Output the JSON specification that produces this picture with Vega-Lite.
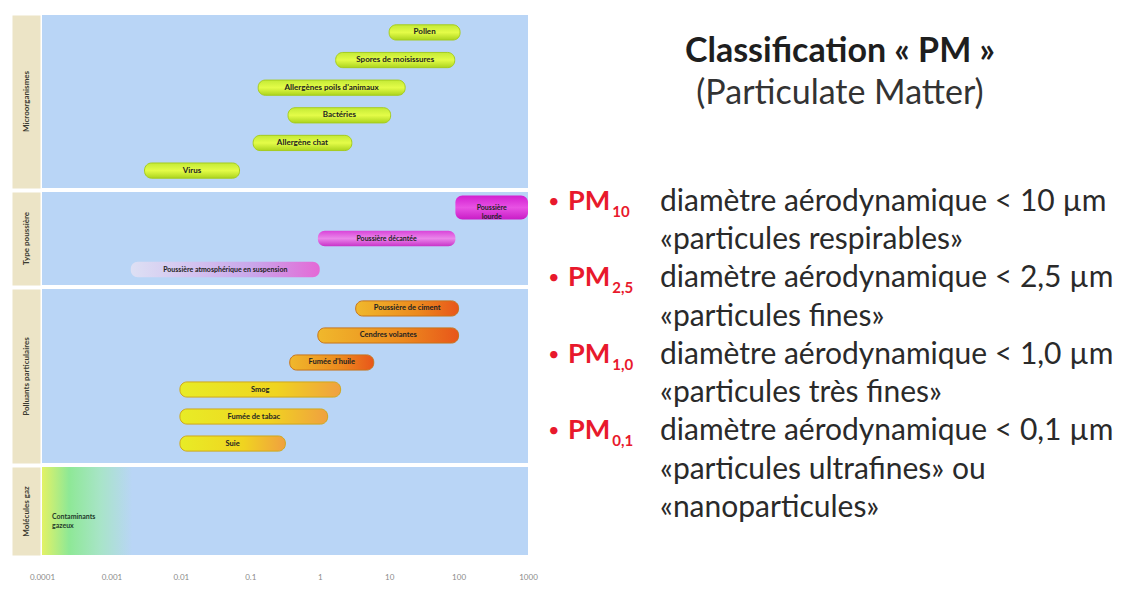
{
  "$schema": "https://vega.github.io/schema/vega-lite/v6.json",
  "background": "white",
  "padding": {"left": 22, "top": 15, "right": 0, "bottom": 0},
  "config": {"font": "Lato", "view": {"stroke": null}},
  "datasets": {
    "bars": [
      {"group": "Microorganismes", "label": "Pollen", "lo": 10, "hi": 105},
      {"group": "Microorganismes", "label": "Spores de moisissures", "lo": 1.7, "hi": 88},
      {"group": "Microorganismes", "label": "Allergènes poils d'animaux", "lo": 0.13, "hi": 17},
      {"group": "Microorganismes", "label": "Bactéries", "lo": 0.35, "hi": 10.5},
      {"group": "Microorganismes", "label": "Allergène chat", "lo": 0.11, "hi": 2.9},
      {"group": "Microorganismes", "label": "Virus", "lo": 0.003, "hi": 0.07},
      {"group": "Type poussière", "label": "Poussière\nlourde", "lo": 90, "hi": 1000},
      {"group": "Type poussière", "label": "Poussière décantée", "lo": 0.94, "hi": 90},
      {"group": "Type poussière", "label": "Poussière atmosphérique en suspension", "lo": 0.0019, "hi": 1},
      {"group": "Polluants particulaires", "label": "Poussière de ciment", "lo": 3.3, "hi": 100},
      {"group": "Polluants particulaires", "label": "Cendres volantes", "lo": 0.94, "hi": 100},
      {"group": "Polluants particulaires", "label": "Fumée d'huile", "lo": 0.37, "hi": 6},
      {"group": "Polluants particulaires", "label": "Smog", "lo": 0.0097, "hi": 2},
      {"group": "Polluants particulaires", "label": "Fumée de tabac", "lo": 0.0097, "hi": 1.3},
      {"group": "Polluants particulaires", "label": "Suie", "lo": 0.0097, "hi": 0.32},
      {"group": "Molécules gaz", "label": "Contaminants\ngazeux", "lo": 0.0001, "hi": 0.002}
    ],
    "notes": [
      {"line": 1, "pm": "PM", "sub": "10", "text": "diamètre aérodynamique < 10 µm"},
      {"line": 2, "text": "«particules respirables»"},
      {"line": 3, "pm": "PM", "sub": "2,5", "text": "diamètre aérodynamique < 2,5 µm"},
      {"line": 4, "text": "«particules fines»"},
      {"line": 5, "pm": "PM", "sub": "1,0", "text": "diamètre aérodynamique < 1,0 µm"},
      {"line": 6, "text": "«particules très fines»"},
      {"line": 7, "pm": "PM", "sub": "0,1", "text": "diamètre aérodynamique < 0,1 µm"},
      {"line": 8, "text": "«particules ultrafines» ou"},
      {"line": 9, "text": "«nanoparticules»"}
    ]
  },
  "spacing": 7,
  "hconcat": [
    {
      "spacing": 4,
      "vconcat": [
        {
          "width": 486, "height": 173,
          "view": {"fill": "#b9d5f6", "stroke": null},
          "data": {"name": "bars"},
          "transform": [
            {"filter": "datum.group === 'Microorganismes'"},
            {"calculate": "sqrt(datum.lo * datum.hi)", "as": "mid"}
          ],
          "encoding": {
            "y": {"field": "label", "type": "nominal", "sort": null,
              "scale": {"paddingInner": 0, "paddingOuter": 0.13},
              "axis": {"labels": false, "ticks": false, "grid": false, "domain": true, "domainColor": "#ece4c6", "domainWidth": 28, "offset": 16,
                "title": "Microorganismes", "titleX": 0, "titleY": 86, "titleAngle": -90, "titleAlign": "center", "titleBaseline": "middle",
                "titleFontSize": 8, "titleFontWeight": "bold", "titleColor": "#3a3a30"}}
          },
          "layer": [
            {
              "mark": {"type": "bar", "cornerRadius": 7, "height": {"band": 0.55}, "stroke": "#a6cc1e", "strokeWidth": 1,
                "color": {"gradient": "linear", "x1": 0, "y1": 0, "x2": 0, "y2": 1,
                  "stops": [{"offset": 0, "color": "#c4ea36"}, {"offset": 0.5, "color": "#e4fc48"}, {"offset": 1, "color": "#acd41e"}]}},
              "encoding": {
                "x": {"field": "lo", "type": "quantitative", "scale": {"type": "log", "domain": [0.0001, 1000]}, "axis": null},
                "x2": {"field": "hi"}
              }
            },
            {
              "mark": {"type": "text", "fontSize": 8, "fontWeight": "bold", "color": "#222222"},
              "encoding": {
                "x": {"field": "mid", "type": "quantitative", "scale": {"type": "log", "domain": [0.0001, 1000]}},
                "text": {"field": "label"}
              }
            }
          ]
        },
        {
          "width": 486, "height": 93,
          "view": {"fill": "#b9d5f6", "stroke": null},
          "data": {"name": "bars"},
          "transform": [
            {"filter": "datum.group === 'Type poussière'"},
            {"calculate": "sqrt(datum.lo * datum.hi)", "as": "mid"}
          ],
          "encoding": {
            "y": {"field": "label", "type": "nominal", "sort": null,
              "scale": {"paddingInner": 0, "paddingOuter": 0},
              "axis": {"labels": false, "ticks": false, "grid": false, "domain": true, "domainColor": "#ece4c6", "domainWidth": 28, "offset": 16,
                "title": "Type poussière", "titleX": 0, "titleY": 46, "titleAngle": -90, "titleAlign": "center", "titleBaseline": "middle",
                "titleFontSize": 8, "titleFontWeight": "bold", "titleColor": "#3a3a30"}}
          },
          "layer": [
            {
              "transform": [{"filter": "datum.lo >= 50"}],
              "mark": {"type": "bar", "cornerRadius": 7, "height": {"band": 0.78},
                "color": {"gradient": "linear", "x1": 0, "y1": 0, "x2": 0, "y2": 1,
                  "stops": [{"offset": 0, "color": "#d21fd0"}, {"offset": 0.5, "color": "#e852e4"}, {"offset": 1, "color": "#c81cc6"}]}},
              "encoding": {
                "x": {"field": "lo", "type": "quantitative", "scale": {"type": "log", "domain": [0.0001, 1000]}, "axis": null},
                "x2": {"field": "hi"}
              }
            },
            {
              "transform": [{"filter": "datum.lo < 50 && datum.lo > 0.01"}],
              "mark": {"type": "bar", "cornerRadius": 7, "height": {"band": 0.5},
                "color": {"gradient": "linear", "x1": 0, "y1": 0, "x2": 0, "y2": 1,
                  "stops": [{"offset": 0, "color": "#d944d9"}, {"offset": 0.5, "color": "#ea86ea"}, {"offset": 1, "color": "#c834c8"}]}},
              "encoding": {
                "x": {"field": "lo", "type": "quantitative", "scale": {"type": "log", "domain": [0.0001, 1000]}, "axis": null},
                "x2": {"field": "hi"}
              }
            },
            {
              "transform": [{"filter": "datum.lo <= 0.01"}],
              "mark": {"type": "bar", "cornerRadius": 7, "height": {"band": 0.5},
                "color": {"gradient": "linear", "x1": 0, "y1": 0, "x2": 1, "y2": 0,
                  "stops": [{"offset": 0, "color": "#dde0f4"}, {"offset": 0.65, "color": "#c9a6ea"}, {"offset": 1, "color": "#e468d6"}]}},
              "encoding": {
                "x": {"field": "lo", "type": "quantitative", "scale": {"type": "log", "domain": [0.0001, 1000]}, "axis": null},
                "x2": {"field": "hi"}
              }
            },
            {
              "mark": {"type": "text", "fontSize": 7, "fontWeight": "bold", "color": "#222222", "lineBreak": "\n"},
              "encoding": {
                "x": {"field": "mid", "type": "quantitative", "scale": {"type": "log", "domain": [0.0001, 1000]}},
                "text": {"field": "label"}
              }
            }
          ]
        },
        {
          "width": 486, "height": 174,
          "view": {"fill": "#b9d5f6", "stroke": null},
          "data": {"name": "bars"},
          "transform": [
            {"filter": "datum.group === 'Polluants particulaires'"},
            {"calculate": "sqrt(datum.lo * datum.hi)", "as": "mid"}
          ],
          "encoding": {
            "y": {"field": "label", "type": "nominal", "sort": null,
              "scale": {"paddingInner": 0, "paddingOuter": 0.22},
              "axis": {"labels": false, "ticks": false, "grid": false, "domain": true, "domainColor": "#ece4c6", "domainWidth": 28, "offset": 16,
                "title": "Polluants particulaires", "titleX": 0, "titleY": 87, "titleAngle": -90, "titleAlign": "center", "titleBaseline": "middle",
                "titleFontSize": 8, "titleFontWeight": "bold", "titleColor": "#3a3a30"}}
          },
          "layer": [
            {
              "transform": [{"filter": "datum.hi >= 5"}],
              "mark": {"type": "bar", "cornerRadius": 7, "height": {"band": 0.56}, "stroke": "#c8741a", "strokeWidth": 1,
                "color": {"gradient": "linear", "x1": 0, "y1": 0, "x2": 1, "y2": 0,
                  "stops": [{"offset": 0, "color": "#f0b82c"}, {"offset": 0.6, "color": "#ec8a1e"}, {"offset": 1, "color": "#e8561a"}]}},
              "encoding": {
                "x": {"field": "lo", "type": "quantitative", "scale": {"type": "log", "domain": [0.0001, 1000]}, "axis": null},
                "x2": {"field": "hi"}
              }
            },
            {
              "transform": [{"filter": "datum.hi < 5"}],
              "mark": {"type": "bar", "cornerRadius": 7, "height": {"band": 0.56}, "stroke": "#d0a81a", "strokeWidth": 1,
                "color": {"gradient": "linear", "x1": 0, "y1": 0, "x2": 1, "y2": 0,
                  "stops": [{"offset": 0, "color": "#e8ec26"}, {"offset": 0.6, "color": "#f0d420"}, {"offset": 1, "color": "#f0a040"}]}},
              "encoding": {
                "x": {"field": "lo", "type": "quantitative", "scale": {"type": "log", "domain": [0.0001, 1000]}, "axis": null},
                "x2": {"field": "hi"}
              }
            },
            {
              "mark": {"type": "text", "fontSize": 7.5, "fontWeight": "bold", "color": "#222222"},
              "encoding": {
                "x": {"field": "mid", "type": "quantitative", "scale": {"type": "log", "domain": [0.0001, 1000]}},
                "text": {"field": "label"}
              }
            }
          ]
        },
        {
          "width": 486, "height": 88,
          "view": {"fill": "#b9d5f6", "stroke": null},
          "data": {"name": "bars"},
          "transform": [{"filter": "datum.group === 'Molécules gaz'"}],
          "encoding": {
            "y": {"field": "group", "type": "nominal",
              "scale": {"paddingInner": 0, "paddingOuter": 0},
              "axis": {"labels": false, "ticks": false, "grid": false, "domain": true, "domainColor": "#ece4c6", "domainWidth": 28, "offset": 16,
                "title": "Molécules gaz", "titleX": 0, "titleY": 44, "titleAngle": -90, "titleAlign": "center", "titleBaseline": "middle",
                "titleFontSize": 8, "titleFontWeight": "bold", "titleColor": "#3a3a30"}}
          },
          "layer": [
            {
              "mark": {"type": "bar",
                "color": {"gradient": "linear", "x1": 0, "y1": 0, "x2": 1, "y2": 0,
                  "stops": [{"offset": 0, "color": "#e2f266"}, {"offset": 0.3, "color": "#8ee896"}, {"offset": 0.65, "color": "#a8e4c8"}, {"offset": 1, "color": "#b9d5f6"}]}},
              "encoding": {
                "x": {"field": "lo", "type": "quantitative", "scale": {"type": "log", "domain": [0.0001, 1000]},
                  "axis": {"values": [0.0001, 0.001, 0.01, 0.1, 1, 10, 100, 1000], "format": "~g", "title": null, "grid": false, "ticks": false, "domain": false,
                    "labelFontSize": 8, "labelColor": "#8a8a8a", "labelPadding": 18, "labelFlush": false}},
                "x2": {"field": "hi"}
              }
            },
            {
              "mark": {"type": "text", "fontSize": 7, "fontWeight": "bold", "color": "#1f3a2a", "align": "left", "dx": 10, "dy": 6, "lineBreak": "\n"},
              "encoding": {
                "x": {"field": "lo", "type": "quantitative", "scale": {"type": "log", "domain": [0.0001, 1000]}},
                "text": {"field": "label"}
              }
            }
          ]
        }
      ]
    },
    {
      "width": 580, "height": 540,
      "view": {"stroke": null},
      "title": {"text": "Classification « PM »", "subtitle": "(Particulate Matter)", "anchor": "middle", "dx": 5, "dy": 100,
        "font": "Lato", "fontSize": 34, "fontWeight": "bold", "color": "#1e1e1e",
        "subtitleFont": "Lato", "subtitleFontSize": 34, "subtitleColor": "#333333", "subtitlePadding": 8, "offset": 4},
      "data": {"name": "notes"},
      "encoding": {
        "y": {"field": "line", "type": "quantitative", "scale": {"domain": [-3.889, 10.229], "reverse": true}, "axis": null}
      },
      "layer": [
        {
          "transform": [{"filter": "datum.pm"}],
          "mark": {"type": "text", "text": "•", "color": "#e8192c", "fontSize": 20, "align": "left", "baseline": "middle"},
          "encoding": {"x": {"datum": 0.5, "type": "quantitative", "scale": {"domain": [0, 100]}, "axis": null}}
        },
        {
          "transform": [{"filter": "datum.pm"}],
          "mark": {"type": "text", "color": "#e8192c", "fontSize": 27, "fontWeight": "bold", "align": "left", "baseline": "middle"},
          "encoding": {"x": {"datum": 3.97, "type": "quantitative", "scale": {"domain": [0, 100]}, "axis": null}, "text": {"field": "pm"}}
        },
        {
          "transform": [{"filter": "datum.pm"}],
          "mark": {"type": "text", "color": "#e8192c", "fontSize": 15, "fontWeight": "bold", "align": "left", "baseline": "middle", "dy": 10},
          "encoding": {"x": {"datum": 11.6, "type": "quantitative", "scale": {"domain": [0, 100]}, "axis": null}, "text": {"field": "sub"}}
        },
        {
          "mark": {"type": "text", "color": "#2a2a2a", "fontSize": 30, "align": "left", "baseline": "middle"},
          "encoding": {"x": {"datum": 19.83, "type": "quantitative", "scale": {"domain": [0, 100]}, "axis": null}, "text": {"field": "text"}}
        }
      ]
    }
  ]
}
